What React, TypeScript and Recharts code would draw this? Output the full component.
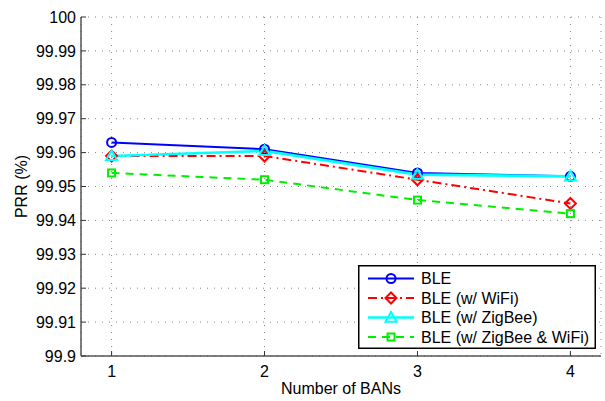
import React from 'react';
import { LineChart, Line, XAxis, YAxis, CartesianGrid, Legend } from 'recharts';

const bans = [1, 2, 3, 4];
const ble = [99.963, 99.961, 99.954, 99.953];
const bleWifi = [99.959, 99.959, 99.952, 99.945];
const bleZigbee = [99.959, 99.9605, 99.9535, 99.953];
const bleZigbeeWifi = [99.954, 99.952, 99.946, 99.942];
const yTicks = [99.9, 99.91, 99.92, 99.93, 99.94, 99.95, 99.96, 99.97, 99.98, 99.99, 100];
const xTicks = [1, 2, 3, 4];
const seriesNames = ['BLE', 'BLE (w/ WiFi)', 'BLE (w/ ZigBee)', 'BLE (w/ ZigBee & WiFi)'];

const data = bans.map((b, i) => ({
  x: b,
  ble: ble[i],
  wifi: bleWifi[i],
  zig: bleZigbee[i],
  zigwifi: bleZigbeeWifi[i],
}));

const FONT = '"Liberation Sans", Arial, Helvetica, sans-serif';

type Shape = 'circle' | 'diamond' | 'triangle' | 'square';

function marker(shape: Shape, cx: number, cy: number, color: string, key?: any) {
  const sw = 2;
  if (shape === 'circle') {
    return <circle key={key} cx={cx} cy={cy} r={4.5} fill="none" stroke={color} strokeWidth={sw} />;
  }
  if (shape === 'diamond') {
    const r = 5.5;
    return (
      <path key={key} d={`M${cx},${cy - r}L${cx + r},${cy}L${cx},${cy + r}L${cx - r},${cy}Z`} fill="none" stroke={color} strokeWidth={sw} />
    );
  }
  if (shape === 'triangle') {
    const r = 5.5;
    return (
      <path key={key} d={`M${cx},${cy - r}L${cx + r},${cy + r * 0.75}L${cx - r},${cy + r * 0.75}Z`} fill="none" stroke={color} strokeWidth={sw} />
    );
  }
  const s = 3.5;
  return <rect key={key} x={cx - s} y={cy - s} width={2 * s} height={2 * s} fill="none" stroke={color} strokeWidth={sw} />;
}

const series = [
  { key: 'ble', name: seriesNames[0], color: '#0000ff', dash: undefined as string | undefined, width: 2, shape: 'circle' as Shape },
  { key: 'wifi', name: seriesNames[1], color: '#ff0000', dash: '9 4 2 4', width: 2, shape: 'diamond' as Shape },
  { key: 'zig', name: seriesNames[2], color: '#00ffff', dash: undefined as string | undefined, width: 2.6, shape: 'triangle' as Shape },
  { key: 'zigwifi', name: seriesNames[3], color: '#00ee00', dash: '8 6', width: 2, shape: 'square' as Shape },
];

const LegendBox = () => (
  <svg width={238} height={84} style={{ display: 'block' }}>
    <rect x={0.75} y={0.75} width={236.5} height={82.5} fill="#fff" stroke="#000" strokeWidth={1.5} />
    {series.map((s, i) => {
      const y = 13.5 + i * 19.5;
      return (
        <g key={s.key}>
          <line x1={10} x2={56} y1={y} y2={y} stroke={s.color} strokeWidth={s.width} strokeDasharray={s.dash} />
          {marker(s.shape, 33, y, s.color)}
          <text x={63} y={y + 5.5} fontFamily={FONT} fontSize={16} fill="#000">
            {s.name}
          </text>
        </g>
      );
    })}
  </svg>
);

export default function App() {
  return (
    <div style={{ position: 'absolute', left: 0, top: 0, width: 605, height: 401, background: '#fff' }}>
      <LineChart width={605} height={401} data={data} margin={{ top: 17, right: 4, bottom: 0, left: 0 }}>
        <CartesianGrid stroke="#888" strokeDasharray="1 6" strokeWidth={1} />
        <XAxis
          dataKey="x"
          type="number"
          domain={[0.8, 4.2]}
          ticks={xTicks}
          height={45}
          tickSize={-5}
          tickMargin={15}
          tickLine={{ stroke: '#333', strokeWidth: 1 }}
          axisLine={{ stroke: '#555', strokeWidth: 1.5 }}
          tick={{ fill: '#000', fontSize: 16, fontFamily: FONT }}
          label={{
            content: (props: any) => {
              const vb = props.viewBox;
              return (
                <text x={vb.x + vb.width / 2} y={vb.y + 38} textAnchor="middle" fontFamily={FONT} fontSize={16} fill="#000">
                  Number of BANs
                </text>
              );
            },
          }}
        />
        <YAxis
          type="number"
          domain={[99.9, 100]}
          ticks={yTicks}
          width={81}
          interval={0}
          tickSize={-5}
          tickMargin={10}
          tickLine={{ stroke: '#333', strokeWidth: 1 }}
          axisLine={{ stroke: '#555', strokeWidth: 1.5 }}
          tick={{ fill: '#000', fontSize: 16, fontFamily: FONT }}
          allowDataOverflow
          label={{
            content: (props: any) => {
              const vb = props.viewBox;
              const cx = 27;
              const cy = vb.y + vb.height / 2;
              return (
                <text x={cx} y={cy} transform={`rotate(-90 ${cx} ${cy})`} textAnchor="middle" fontFamily={FONT} fontSize={16} fill="#000">
                  PRR (%)
                </text>
              );
            },
          }}
        />
        {series.map((s) => (
          <Line
            key={s.key}
            dataKey={s.key}
            name={s.name}
            type="linear"
            stroke={s.color}
            strokeWidth={s.width}
            strokeDasharray={s.dash}
            isAnimationActive={false}
            dot={(p: any) => marker(s.shape, p.cx, p.cy, s.color, `${s.key}-${p.index}`)}
            activeDot={false}
          />
        ))}
        <Legend
          layout="vertical"
          align="center"
          verticalAlign="middle"
          content={() => <LegendBox />}
          wrapperStyle={{ left: 358, top: 265, width: 238, height: 84 }}
        />
      </LineChart>
    </div>
  );
}
